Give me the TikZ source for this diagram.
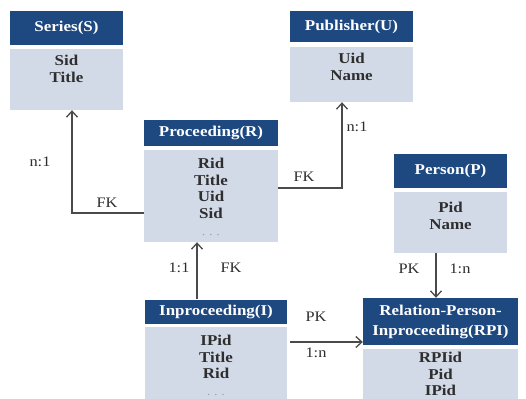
\documentclass[tikz,border=0pt]{standalone}
\usepackage{fontspec}
\setmainfont{Liberation Serif}[FakeStretch=1.13]
\usetikzlibrary{arrows.meta}
\definecolor{hdrblue}{HTML}{1D4880}
\definecolor{bodyfill}{HTML}{D2D9E7}
\definecolor{inkgray}{HTML}{2E2E2E}
\definecolor{linegray}{HTML}{4A4A4A}
\newcommand{\moredots}{\mdseries\textcolor{black!40}{\fontsize{11}{16.6}\selectfont. . .}}
\begin{document}
\begin{tikzpicture}[x=1pt,y=-1pt,
  hdr/.style={rectangle, fill=hdrblue, text=white, font=\fontsize{15}{20}\selectfont\bfseries, inner sep=0pt, align=center},
  bodybox/.style={rectangle, fill=bodyfill, inner sep=0pt},
  fields/.style={anchor=north, font=\fontsize{15}{16.6}\selectfont\bfseries, text=inkgray, align=center, inner sep=0pt},
  lbl/.style={font=\fontsize{14.5}{16}\selectfont, text=inkgray, inner sep=0pt},
  arr/.style={draw=linegray, line width=1.3pt, -{Straight Barb[length=6pt,width=11pt]}}]
\useasboundingbox (0,0) rectangle (526,398);
\fill[white] (0,0) rectangle (526,398);
\clip (0,0) rectangle (526,398);
% Series
\node[hdr, minimum width=113pt, minimum height=34pt] (sH) at (66.5,28) {Series(S)};
\node[bodybox, minimum width=113pt, minimum height=61pt] (sB) at (66.5,79.5) {};
\node[fields] (sT) at (66.5,55) {Sid\\Title};
% Publisher
\node[hdr, minimum width=123pt, minimum height=31pt] (uH) at (351.5,26.5) {Publisher(U)};
\node[bodybox, minimum width=123pt, minimum height=55pt] (uB) at (351.5,74.5) {};
\node[fields] (uT) at (351.5,53) {Uid\\Name};
% Proceeding
\node[hdr, minimum width=134pt, minimum height=26pt] (pH) at (211,133) {Proceeding(R)};
\node[bodybox, minimum width=134pt, minimum height=92pt] (pB) at (211,196) {};
\node[fields] (pT) at (211,158) {Rid\\Title\\Uid\\Sid\\\moredots};
% Person
\node[hdr, minimum width=113pt, minimum height=34pt] (perH) at (450.5,171) {Person(P)};
\node[bodybox, minimum width=113pt, minimum height=61pt] (perB) at (450.5,222.5) {};
\node[fields] (perT) at (450.5,202) {Pid\\Name};
% Inproceeding
\node[hdr, minimum width=142pt, minimum height=24pt] (iH) at (216,311.5) {Inproceeding(I)};
\node[bodybox, minimum width=142pt, minimum height=75pt] (iB) at (216,364.5) {};
\node[fields] (iT) at (216,335) {IPid\\Title\\Rid\\\moredots};
% RPI
\node[hdr, minimum width=155pt, minimum height=47pt] (rH) at (440.5,321.5) {Relation-Person-\\Inproceeding(RPI)};
\node[bodybox, minimum width=155pt, minimum height=53pt] (rB) at (440.5,375.5) {};
\node[fields] (rT) at (440.5,352) {RPIid\\Pid\\IPid};
% connectors
\draw[arr] ([yshift=-17pt]pB.west) -| ([xshift=5.5pt]sB.south);
\draw[arr] ([yshift=8pt]pB.east) -| ([xshift=-9.5pt]uB.south);
\draw[arr] ([xshift=-19pt]iH.north) -- ([xshift=-19pt]iH.north |- pB.south);
\draw[arr] ([xshift=-14.5pt]perB.south) -- ([xshift=-14.5pt]perB.south |- rH.north);
\coordinate (iout) at ([xshift=3pt,yshift=22.5pt]iB.east);
\draw[arr] (iout) -- (iout -| rH.west);
% labels
\node[lbl] (l1) at (40,162) {n:1};
\node[lbl] (l2) at (107,203) {FK};
\node[lbl] (l3) at (304,177) {FK};
\node[lbl] (l4) at (357,127) {n:1};
\node[lbl] (l5) at (179,268) {1:1};
\node[lbl] (l6) at (231,268) {FK};
\node[lbl] (l7) at (409,269) {PK};
\node[lbl] (l8) at (460,269) {1:n};
\node[lbl] (l9) at (316,317) {PK};
\node[lbl] (l10) at (316,353) {1:n};
\end{tikzpicture}
\end{document}
